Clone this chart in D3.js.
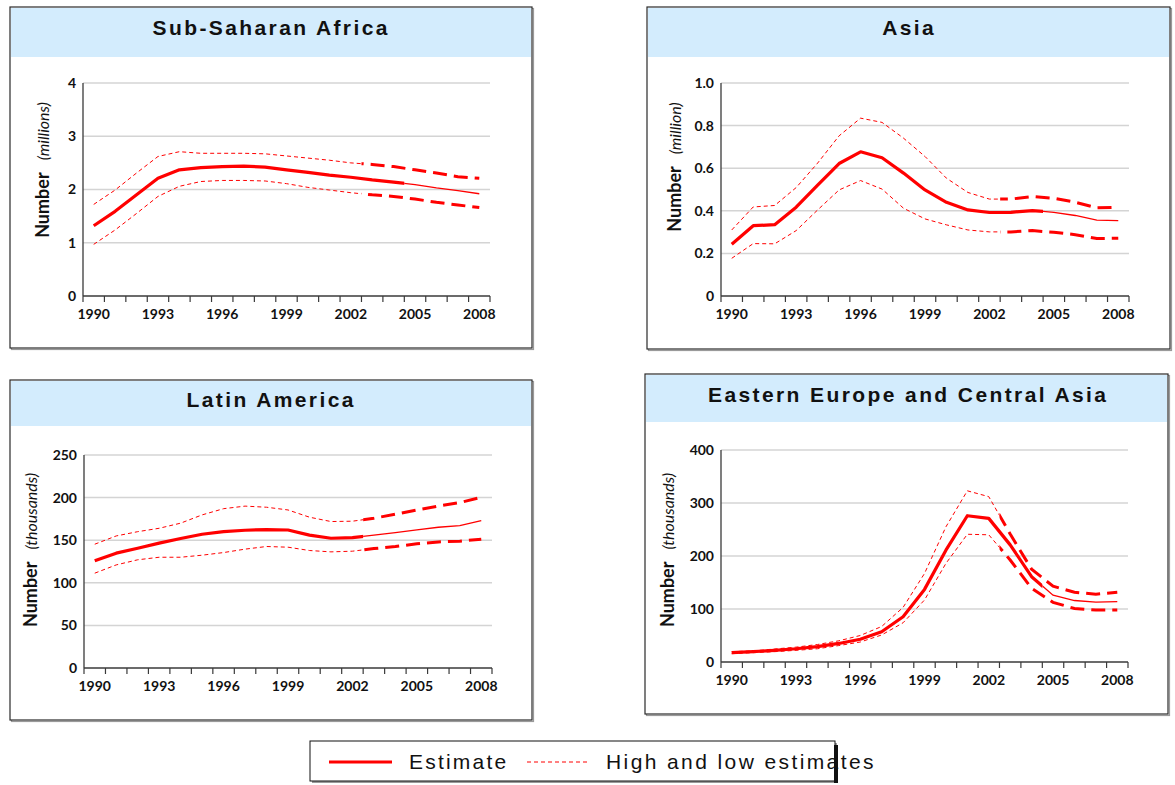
<!DOCTYPE html>
<html><head><meta charset="utf-8">
<script src="https://cdn.jsdelivr.net/npm/d3@7"></script>
<style>body{margin:0;background:#fff}svg{display:block}</style>
</head><body><svg id="c" width="1175" height="785"></svg>
<script>
// ---------- data ----------
const years = [1990,1991,1992,1993,1994,1995,1996,1997,1998,1999,2000,2001,2002,2003,2004,2005,2006,2007,2008];
const tickYears = [1990,1993,1996,1999,2002,2005,2008];

const ssaEstimate = [1.32,1.59,1.90,2.21,2.37,2.41,2.43,2.44,2.42,2.37,2.32,2.27,2.23,2.18,2.14,2.09,2.03,1.98,1.92];
const ssaHigh     = [1.72,1.99,2.31,2.62,2.71,2.68,2.68,2.68,2.67,2.63,2.59,2.55,2.50,2.47,2.43,2.37,2.31,2.24,2.21];
const ssaLow      = [0.97,1.24,1.55,1.87,2.06,2.15,2.17,2.17,2.16,2.11,2.04,1.99,1.94,1.90,1.87,1.82,1.76,1.71,1.66];
const ssaTicks = [0,1,2,3,4];
const ssaTickLabels = ["0","1","2","3","4"];

const asiaEstimate = [0.243,0.330,0.335,0.417,0.520,0.622,0.677,0.649,0.577,0.498,0.440,0.404,0.392,0.393,0.401,0.393,0.378,0.356,0.354];
const asiaHigh     = [0.310,0.418,0.425,0.509,0.624,0.752,0.835,0.815,0.741,0.655,0.553,0.486,0.455,0.455,0.467,0.459,0.440,0.414,0.417];
const asiaLow      = [0.177,0.246,0.245,0.307,0.404,0.498,0.542,0.502,0.412,0.362,0.334,0.310,0.301,0.301,0.307,0.299,0.288,0.270,0.271];
const asiaTicks = [0,0.2,0.4,0.6,0.8,1.0];
const asiaTickLabels = ["0","0.2","0.4","0.6","0.8","1.0"];

const latEstimate = [125.8,134.8,140.6,146.5,152.0,157.0,160.0,161.7,162.5,162.0,156.0,152.3,153.0,155.9,159.0,162.0,165.2,167.2,173.0];
const latHigh     = [145.3,155.0,160.0,164.0,170.0,179.7,187.0,190.0,188.7,185.5,177.0,171.9,172.3,175.8,180.5,185.5,190.0,194.1,200.4];
const latLow      = [111.3,121.0,127.0,130.0,130.0,132.4,135.5,139.5,142.6,141.8,137.9,136.3,137.1,140.2,142.6,145.7,148.0,148.8,151.2];
const latTicks = [0,50,100,150,200,250];
const latTickLabels = ["0","50","100","150","200","250"];

const eecaEstimate = [17.6,19.5,22.0,25.0,29.0,35.0,43.0,57.0,85.5,137.0,211.0,276.0,271.0,221.0,161.0,126.0,116.0,113.0,114.0];
const eecaHigh     = [19.5,21.0,24.5,28.0,33.0,40.0,50.0,67.0,103.0,167.0,255.0,323.0,312.0,241.5,175.0,143.0,131.5,128.0,131.5];
const eecaLow      = [15.7,17.6,19.5,22.0,25.0,31.0,37.7,51.0,74.0,117.0,186.0,241.0,240.0,192.5,139.0,112.6,101.0,98.0,98.0];
const eecaTicks = [0,100,200,300,400];
const eecaTickLabels = ["0","100","200","300","400"];

const titles = ["Sub-Saharan Africa","Asia","Latin America","Eastern Europe and Central Asia"];
const units = ["(millions)","(million)","(thousands)","(thousands)"];
const legendLabels = ["Estimate","High and low estimates"];

// ---------- layout (positions/styles) ----------
const layout = [
  {fx:10, fy:7,  fw:522, fh:341, band:49, tx:270, ty:35,  left:83,  right:490,  top:83,  bottom:296, ax:42,  ay:170, estBreak:2005, bndBreak:2003},
  {fx:647,fy:7,  fw:523, fh:342, band:49, tx:908, ty:35,  left:721, right:1129, top:83,  bottom:296, ax:674, ay:167, estBreak:2005, bndBreak:2003},
  {fx:10, fy:380,fw:522, fh:340, band:45, tx:270, ty:407, left:84,  right:492,  top:455, bottom:668, ax:30,  ay:550, estBreak:2003, bndBreak:2003},
  {fx:645,fy:374,fw:523, fh:340, band:47, tx:907, ty:402, left:721, right:1128, top:450, bottom:662, ax:667, ay:550, estBreak:2005, bndBreak:2003}
];
const panels = [
  {est:ssaEstimate, hi:ssaHigh, lo:ssaLow, ticks:ssaTicks, labels:ssaTickLabels},
  {est:asiaEstimate, hi:asiaHigh, lo:asiaLow, ticks:asiaTicks, labels:asiaTickLabels},
  {est:latEstimate, hi:latHigh, lo:latLow, ticks:latTicks, labels:latTickLabels},
  {est:eecaEstimate, hi:eecaHigh, lo:eecaLow, ticks:eecaTicks, labels:eecaTickLabels}
];

const RED = "#ff0000";
const svg = d3.select("#c");
const defs = svg.append("defs");

panels.forEach((p, i) => {
  const L = layout[i];
  const g = svg.append("g");
  g.append("rect").attr("x", L.fx+1.5).attr("y", L.fy+1.5).attr("width", L.fw).attr("height", L.fh)
    .attr("fill", "none").attr("stroke", "#9a9a9a").attr("stroke-width", 1.2);
  g.append("rect").attr("x", L.fx).attr("y", L.fy).attr("width", L.fw).attr("height", L.fh)
    .attr("fill", "#fff").attr("stroke", "#2a2a2a").attr("stroke-width", 1.2);
  g.append("rect").attr("x", L.fx+1).attr("y", L.fy+1).attr("width", L.fw-2).attr("height", L.band)
    .attr("fill", "#d3ecfd");
  g.append("text").attr("x", L.tx + 1.2).attr("y", L.ty).attr("text-anchor", "middle")
    .attr("font-family", "'Liberation Sans', Arial, sans-serif").attr("font-weight", "bold")
    .attr("font-size", 21).attr("letter-spacing", "2.4px").attr("fill", "#111").text(titles[i]);

  const maxV = p.ticks[p.ticks.length-1];
  const x = d3.scaleBand().domain(years).range([L.left, L.right]).padding(0);
  const y = d3.scaleLinear().domain([0, maxV]).range([L.bottom, L.top]);
  const cx = yr => x(yr) + x.bandwidth()/2;

  g.append("g").selectAll("line").data(p.ticks.filter(t => t > 0)).join("line")
    .attr("x1", L.left).attr("x2", L.right).attr("y1", d => y(d)).attr("y2", d => y(d))
    .attr("stroke", "#d4d4d4").attr("stroke-width", 1.5);

  const ya = g.append("g").attr("transform", `translate(${L.left},0)`)
    .call(d3.axisLeft(y).tickValues(p.ticks).tickSize(0).tickPadding(7)
      .tickFormat((d, k) => p.labels[k]));
  ya.select(".domain").remove();
  ya.selectAll("text").attr("font-family", "Lato, sans-serif").attr("font-weight", "bold")
    .attr("font-size", 14).attr("fill", "#111");

  const xa = g.append("g").attr("transform", `translate(0,${L.bottom})`)
    .call(d3.axisBottom(x).tickValues(tickYears).tickSize(0).tickPadding(13));
  xa.select(".domain").remove();
  xa.selectAll("text").attr("font-family", "Lato, sans-serif").attr("font-weight", "bold")
    .attr("font-size", 14).attr("fill", "#111");

  const bounds = years.map(yr => x(yr)).concat([L.right]);
  g.append("g").selectAll("line").data(bounds).join("line")
    .attr("x1", d => d).attr("x2", d => d).attr("y1", L.bottom).attr("y2", L.bottom + 6)
    .attr("stroke", "#3a3a3a").attr("stroke-width", 1.2);
  g.append("line").attr("x1", L.left).attr("x2", L.right).attr("y1", L.bottom).attr("y2", L.bottom)
    .attr("stroke", "#3a3a3a").attr("stroke-width", 1.3);
  g.append("line").attr("x1", L.left).attr("x2", L.left).attr("y1", L.top).attr("y2", L.bottom)
    .attr("stroke", "#3a3a3a").attr("stroke-width", 1.3);

  const at = g.append("text").attr("transform", `translate(${L.ax},${L.ay}) rotate(-90)`)
    .attr("text-anchor", "middle").attr("dominant-baseline", "central")
    .attr("font-family", "Lato, sans-serif").attr("fill", "#111");
  at.append("tspan").attr("font-weight", "bold").attr("font-size", 18).text("Number");
  at.append("tspan").attr("dx", 12).attr("font-style", "italic").attr("font-size", 16).text(units[i]);

  const mkClip = (id, x0, x1) => defs.append("clipPath").attr("id", id).append("rect")
    .attr("x", x0).attr("y", L.top - 20).attr("width", x1 - x0).attr("height", L.bottom - L.top + 40);
  mkClip(`estA${i}`, L.left - 5, x(L.estBreak));
  mkClip(`estB${i}`, x(L.estBreak), L.right + 5);
  mkClip(`bndA${i}`, L.left - 5, x(L.bndBreak));
  mkClip(`bndB${i}`, x(L.bndBreak), L.right + 5);

  const line = arr => d3.line().x((d, k) => cx(years[k])).y(d => y(d))(arr);

  [p.hi, p.lo].forEach(arr => {
    g.append("path").attr("d", line(arr)).attr("fill", "none").attr("stroke", RED)
      .attr("stroke-width", 1).attr("stroke-dasharray", "4,3").attr("clip-path", `url(#bndA${i})`);
    g.append("path").attr("d", line(arr)).attr("fill", "none").attr("stroke", RED)
      .attr("stroke-width", 3).attr("stroke-dasharray", "14,7").attr("clip-path", `url(#bndB${i})`);
  });
  g.append("path").attr("d", line(p.est)).attr("fill", "none").attr("stroke", RED)
    .attr("stroke-width", 3.2).attr("stroke-linejoin", "round").attr("clip-path", `url(#estA${i})`);
  g.append("path").attr("d", line(p.est)).attr("fill", "none").attr("stroke", RED)
    .attr("stroke-width", 1.3).attr("clip-path", `url(#estB${i})`);
});

// ---------- legend ----------
const lg = svg.append("g");
lg.append("rect").attr("x", 312).attr("y", 743).attr("width", 525).attr("height", 40)
  .attr("fill", "#9a9a9a");
lg.append("rect").attr("x", 310).attr("y", 741).attr("width", 525).attr("height", 40)
  .attr("fill", "#fff").attr("stroke", "#111").attr("stroke-width", 1);
lg.append("line").attr("x1", 329).attr("x2", 392).attr("y1", 762).attr("y2", 762)
  .attr("stroke", RED).attr("stroke-width", 3);
lg.append("line").attr("x1", 527).attr("x2", 588).attr("y1", 762).attr("y2", 762)
  .attr("stroke", RED).attr("stroke-width", 1).attr("stroke-dasharray", "4,3");
lg.append("rect").attr("x", 834).attr("y", 745).attr("width", 4).attr("height", 38).attr("fill", "#111");
lg.append("text").attr("x", 409).attr("y", 769).attr("font-family", "'Liberation Sans', Arial, sans-serif")
  .attr("font-size", 21).attr("letter-spacing", "2.2px").attr("fill", "#111").text(legendLabels[0]);
lg.append("text").attr("x", 606).attr("y", 769).attr("font-family", "'Liberation Sans', Arial, sans-serif")
  .attr("font-size", 21).attr("letter-spacing", "2.4px").attr("fill", "#111").text(legendLabels[1]);
</script>
</body></html>
